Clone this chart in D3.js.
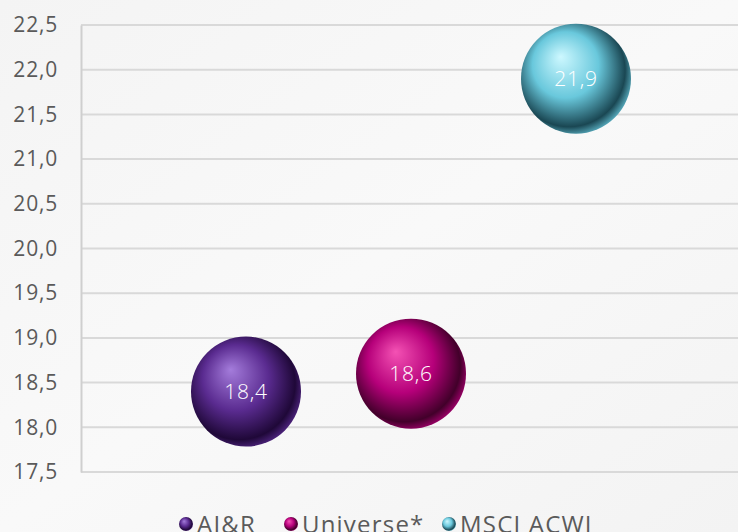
<!DOCTYPE html>
<html>
<head>
<meta charset="utf-8">
<script src="https://cdn.jsdelivr.net/npm/d3@7"></script>
<style>
  body { margin: 0; background: #f6f6f6; }
  svg { display: block; }
</style>
</head>
<body>
<div id="chart"></div>
<script>
// data
let series = ['AI&R', 'Universe*', 'MSCI ACWI']
let xPos = [1, 2, 3]
let values = [18.4, 18.6, 21.9]
let labels = ['18,4', '18,6', '21,9']
let yTicks = [17.5, 18.0, 18.5, 19.0, 19.5, 20.0, 20.5, 21.0, 21.5, 22.0, 22.5]

// sphere colours: [highlight, base, edge]
let colors = [
  ['#a47cdb', '#5a2b90', '#1f0838'],
  ['#f452b4', '#b6007a', '#42002a'],
  ['#cdf8ff', '#69c8dc', '#1a4753']
]

let width = 738
let height = 532
let fontStack = "'Open Sans', 'Noto Sans', sans-serif"

let svg = d3.select('#chart')
  .append('svg')
  .attr('width', width)
  .attr('height', height)

let defs = svg.append('defs')

// soft background
let bg = defs.append('linearGradient')
  .attr('id', 'bg')
  .attr('x1', 0).attr('y1', 0).attr('x2', 1).attr('y2', 1)
bg.append('stop').attr('offset', 0).attr('stop-color', '#f4f4f4')
bg.append('stop').attr('offset', 0.5).attr('stop-color', '#f9f9f9')
bg.append('stop').attr('offset', 1).attr('stop-color', '#f3f3f3')

svg.append('rect')
  .attr('width', width)
  .attr('height', height)
  .attr('fill', 'url(#bg)')

// one radial gradient per series
colors.forEach((c, i) => {
  let g = defs.append('radialGradient')
    .attr('id', 'sphere' + i)
    .attr('cx', 0.45).attr('cy', 0.45).attr('r', 0.6)
    .attr('fx', 0.36).attr('fy', 0.3)
  g.append('stop').attr('offset', 0).attr('stop-color', c[0])
  g.append('stop').attr('offset', 0.5).attr('stop-color', c[1])
  g.append('stop').attr('offset', 0.85).attr('stop-color', c[2])
  g.append('stop').attr('offset', 1).attr('stop-color', c[1])
})

// scales
let xScale = d3.scaleLinear()
  .domain([0, 4])
  .range([81, 741])

let yScale = d3.scaleLinear()
  .domain([17.5, 22.5])
  .range([472, 25])

let r = 55

// gridlines
svg.append('g')
  .attr('id', 'grid')
  .selectAll('line')
  .data(yTicks)
  .enter()
  .append('line')
  .attr('x1', xScale(0))
  .attr('x2', width)
  .attr('y1', d => yScale(d))
  .attr('y2', d => yScale(d))
  .attr('stroke', '#d9d9d9')
  .attr('stroke-width', 2)

// y axis
let yAxis = svg.append('g')
  .attr('id', 'y-axis')
  .attr('transform', 'translate(' + xScale(0) + ',0)')
  .call(d3.axisLeft(yScale)
    .tickValues(yTicks)
    .tickSize(0)
    .tickPadding(23)
    .tickFormat(d => d3.format('.1f')(d).replace('.', ',')))

yAxis.select('.domain')
  .attr('stroke', '#cfcfcf')
  .attr('stroke-width', 2)

yAxis.selectAll('text')
  .attr('fill', '#5a5a5a')
  .style('font-family', fontStack)
  .style('font-size', '21px')
  .style('letter-spacing', '0.8px')

// bubbles
let bubbles = svg.append('g').attr('id', 'bubbles')

bubbles.selectAll('circle')
  .data(values)
  .enter()
  .append('circle')
  .attr('cx', (d, i) => xScale(xPos[i]))
  .attr('cy', d => yScale(d))
  .attr('r', r)
  .attr('fill', (d, i) => 'url(#sphere' + i + ')')

bubbles.selectAll('text')
  .data(values)
  .enter()
  .append('text')
  .attr('x', (d, i) => xScale(xPos[i]))
  .attr('y', d => yScale(d))
  .attr('dy', '0.36em')
  .attr('text-anchor', 'middle')
  .attr('fill', '#ffffff')
  .style('font-family', fontStack)
  .style('font-weight', 300)
  .style('font-size', '21px')
  .style('letter-spacing', '0.8px')
  .text((d, i) => labels[i])

// legend
let legendX = [186, 291, 449]
let legend = svg.append('g').attr('id', 'legend')

let items = legend.selectAll('g')
  .data(series)
  .enter()
  .append('g')
  .attr('transform', (d, i) => 'translate(' + legendX[i] + ',524)')

items.append('circle')
  .attr('r', 7)
  .attr('fill', (d, i) => 'url(#sphere' + i + ')')

items.append('text')
  .attr('x', 11)
  .attr('dy', '0.36em')
  .attr('fill', '#5a5a5a')
  .style('font-family', fontStack)
  .style('font-size', '24px')
  .style('letter-spacing', '1.2px')
  .text(d => d)
</script>
</body>
</html>
